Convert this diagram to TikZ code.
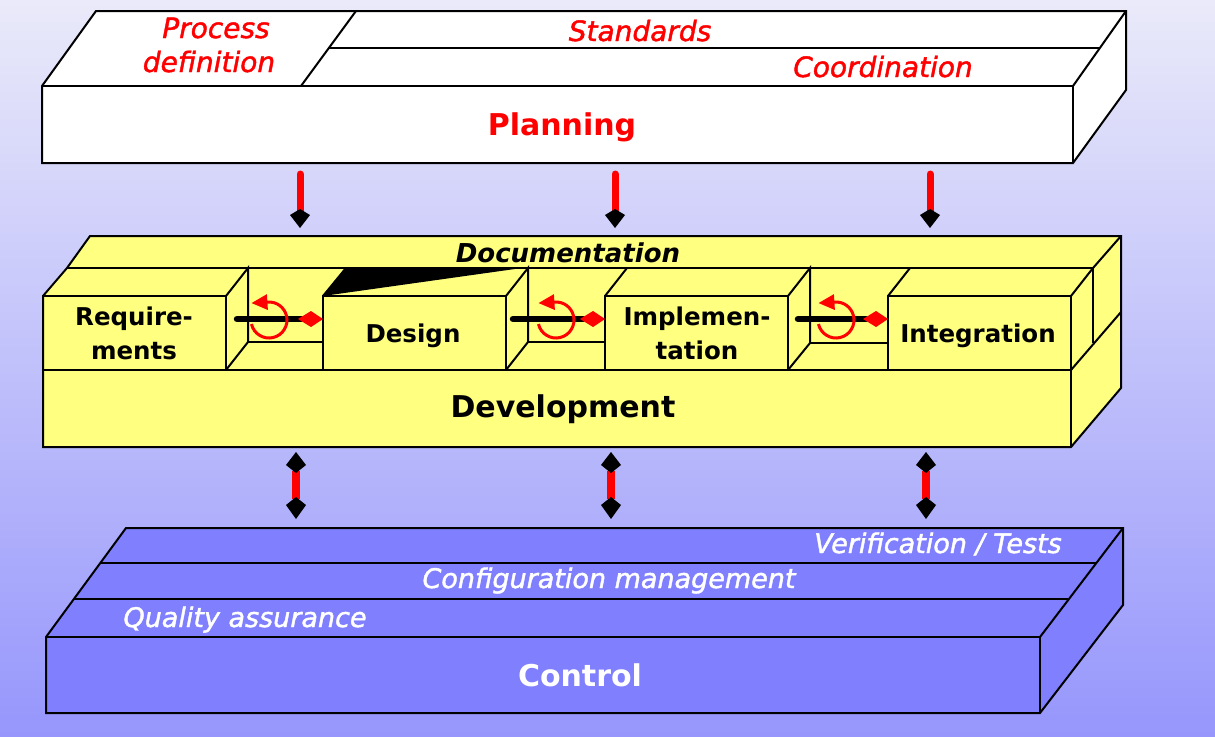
\documentclass[tikz,border=0pt]{standalone}
\usepackage{fontspec}
\setmainfont{DejaVu Sans}
\newfontfamily\labelital{DejaVu Sans}[ItalicFeatures={FakeBold=1.5}]
\usetikzlibrary{arrows.meta}
\definecolor{bgtop}{RGB}{234,234,250}
\definecolor{bgbot}{RGB}{150,150,252}
\definecolor{devyellow}{RGB}{255,255,128}
\definecolor{ctrlblue}{RGB}{128,128,255}
\tikzset{
  outline/.style={draw=black, line width=2pt, line join=miter},
  edgeline/.style={black, line width=2pt},
  redital/.style={text=red, font=\fontsize{28}{30}\labelital\itshape, inner sep=0pt, anchor=base},
  whiteital/.style={text=white, font=\fontsize{27}{29}\labelital\itshape, inner sep=0pt, anchor=base},
  docital/.style={text=black, font=\fontsize{26}{28}\selectfont\bfseries\itshape, inner sep=0pt, anchor=base},
  boxlabel/.style={text=black, font=\fontsize{24.5}{26}\selectfont\bfseries, inner sep=0pt, anchor=base},
  biglabel/.style={font=\fontsize{30}{32}\selectfont\bfseries, inner sep=0pt, anchor=base},
  feedbar/.style={red, line width=7pt, line cap=round},
  kitehead/.style={fill=black},
  loopline/.style={black, line width=6.5pt, line cap=round},
  loopdiamond/.style={fill=red},
  looparrow/.style={red, line width=3pt, -{Triangle[length=16pt,width=15pt]}},
}
\begin{document}
\begin{tikzpicture}[x=1pt,y=-1pt]
\useasboundingbox (0,0) rectangle (1215,736);
\shade[top color=bgtop, bottom color=bgbot] (0,0) rectangle (1215,736);

% ---------------- Planning block ----------------
\filldraw[fill=white, outline] (42,86) -- (96,11) -- (1126,11) -- (1126,90) -- (1073,163) -- (42,163) -- cycle;
\draw[edgeline] (42,86) -- (1073,86) -- (1073,163);
\draw[edgeline] (1073,86) -- (1126,11);
\draw[edgeline] (356,11) -- (301,86);
\draw[edgeline] (329,48) -- (1099,48);
\node[redital] (tproc) at (216,38) {Process};
\node[redital] (tdef) at (209,72) {definition};
\node[redital] (tstd) at (640,41) {Standards};
\node[redital] (tcoord) at (883,77) {Coordination};
\node[biglabel, text=red] (tplan) at (562,135) {Planning};

% ---------------- Planning -> Development connectors ----------------
\foreach \x [count=\i] in {300,615,930} {
  \coordinate (ps\i) at (\x,174);
  \coordinate (pe\i) at (\x,212);
  \draw[feedbar] (ps\i) -- (pe\i);
  \fill[kitehead] (\x,209) -- (\x+10,215) -- (\x,228) -- (\x-10,215) -- cycle;
}

% ---------------- Development block ----------------
\filldraw[fill=devyellow, outline] (43,447) -- (43,296) -- (67,268) -- (90,236) -- (1121,236) -- (1121,388) -- (1071,447) -- cycle;
% documentation wedge
\fill[black] (323,296) -- (346,268) -- (522,268) -- cycle;
\draw[edgeline] (67,268) -- (1093,268);
\draw[edgeline] (43,370) -- (1071,370);
\draw[edgeline] (1071,296) -- (1071,447);
\draw[edgeline] (1071,370) -- (1121,312);
\draw[edgeline] (1071,296) -- (1093,268) -- (1121,236);
\draw[edgeline] (1093,268) -- (1093,343);
% Requirements
\draw[edgeline] (43,296) rectangle (226,370);
\draw[edgeline] (226,296) -- (248,268) -- (248,342) -- (226,370);
\draw[edgeline] (248,342) -- (323,342);
% Design
\draw[edgeline] (323,296) rectangle (506,370);
\draw[edgeline] (323,296) -- (346,268);
\draw[edgeline] (506,296) -- (528,268) -- (528,342) -- (506,370);
\draw[edgeline] (528,342) -- (605,342);
% Implementation
\draw[edgeline] (605,296) rectangle (788,370);
\draw[edgeline] (605,296) -- (627,268);
\draw[edgeline] (788,296) -- (810,268) -- (810,343) -- (788,370);
\draw[edgeline] (810,343) -- (888,343);
% Integration
\draw[edgeline] (888,296) rectangle (1071,370);
\draw[edgeline] (888,296) -- (910,268);

\node[docital] (tdoc) at (568,262) {Documentation};
\node[boxlabel] (treq1) at (134,325) {Require-};
\node[boxlabel] (treq2) at (134,359) {ments};
\node[boxlabel] (tdes) at (413,342) {Design};
\node[boxlabel] (timp1) at (697,325) {Implemen-};
\node[boxlabel] (timp2) at (697,359) {tation};
\node[boxlabel] (tint) at (978,342) {Integration};
\node[biglabel, text=black] (tdev) at (563,417) {Development};

% feedback loops between phases
\foreach \bx/\cx/\ex [count=\i] in {237/269/323, 513/556/605, 798/836/888} {
  \coordinate (ls\i) at (\bx,319);
  \coordinate (le\i) at (\ex-22,319);
  \draw[loopline] (ls\i) -- (le\i);
  \fill[loopdiamond] (\ex-25,319) -- (\ex-12,311) -- (\ex,319) -- (\ex-12,327) -- cycle;
  \draw[looparrow] ([shift={(167:18)}]\cx,320) arc (167:-95:18) -- ++(-16,1);
}

% ---------------- Development -> Control connectors ----------------
\foreach \x [count=\i] in {296,611,926} {
  \coordinate (cs\i) at (\x,471);
  \coordinate (ce\i) at (\x,499);
  \draw[red, line width=8pt] (cs\i) -- (ce\i);
  \fill[kitehead] (\x,452) -- (\x+10,465) -- (\x,473) -- (\x-10,465) -- cycle;
  \fill[kitehead] (\x,497) -- (\x+10,505) -- (\x,519) -- (\x-10,505) -- cycle;
}

% ---------------- Control block ----------------
\filldraw[fill=ctrlblue, outline] (46,637) -- (126,528) -- (1123,528) -- (1123,605) -- (1040,713) -- (46,713) -- cycle;
\draw[edgeline] (46,637) -- (1040,637) -- (1040,713);
\draw[edgeline] (1040,637) -- (1123,528);
\draw[edgeline] (100,563) -- (1096,563);
\draw[edgeline] (73,599) -- (1068,599);
\node[whiteital] (tver) at (938,553) {Verification / Tests};
\node[whiteital] (tconf) at (609,588) {Configuration management};
\node[whiteital] (tqa) at (245,627) {Quality assurance};
\node[biglabel, text=white] (tctrl) at (580,686) {Control};
\end{tikzpicture}
\end{document}
